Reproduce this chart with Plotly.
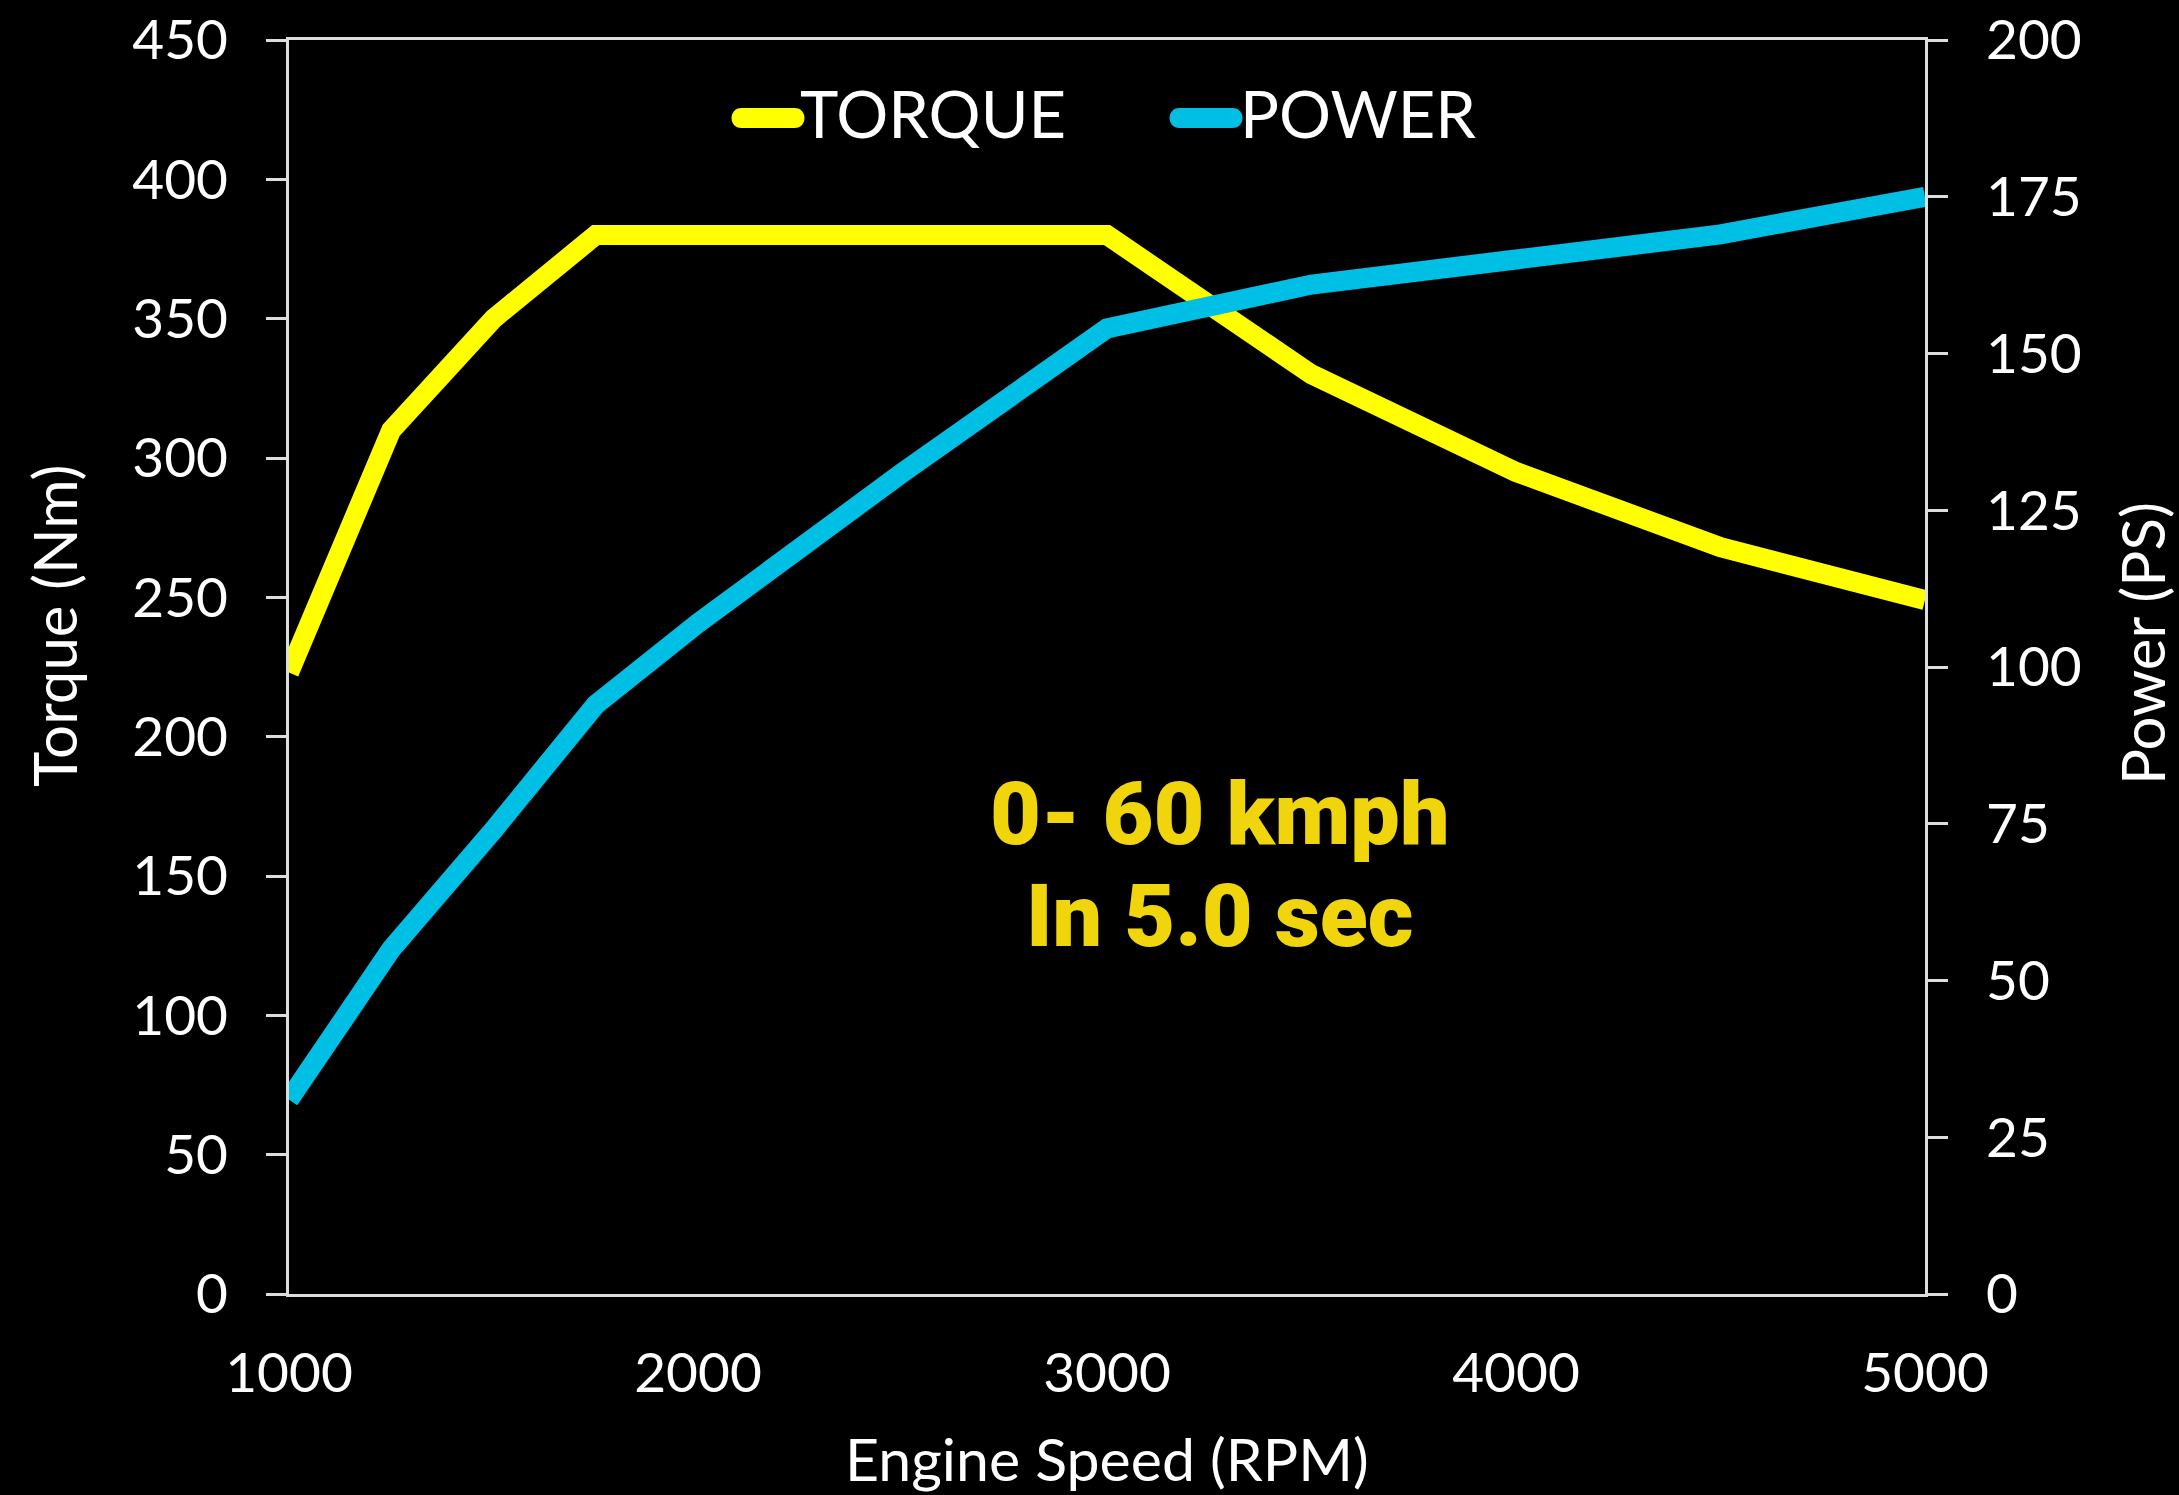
import plotly.graph_objects as go

# engine speed (RPM)
rpm = [1000, 1250, 1500, 1750, 2000, 2500, 3000, 3500, 4000, 4500, 5000]
# torque (Nm) and power (PS)
torque = [223, 310, 350, 380, 380, 380, 380, 330, 295, 268, 249]
power = [31, 55, 74, 94, 107, 131, 154, 161, 165, 169, 175]

series_names = ["TORQUE", "POWER"]

YELLOW = "#FFFF00"
BLUE = "#00BFE5"
AXIS = "#DDDDDD"
FONT = "Lato"

# plot area in pixels (figure is 2179 x 1495)
PL, PR, PT, PB = 289, 1925, 40, 1294
PW, PH = PR - PL, PB - PT


def px(x):
    return (x - PL) / PW


def py(y):
    return (PB - y) / PH


fig = go.Figure()

fig.add_trace(go.Scatter(
    x=rpm, y=torque, mode="lines", name=series_names[0],
    line=dict(color=YELLOW, width=20),
))
fig.add_trace(go.Scatter(
    x=rpm, y=power, mode="lines", name=series_names[1], yaxis="y2",
    line=dict(color=BLUE, width=20),
))

fig.update_layout(
    width=2179, height=1495,
    margin=dict(l=PL, r=2179 - PR, t=PT, b=1495 - PB),
    paper_bgcolor="black",
    plot_bgcolor="black",
    font=dict(family=FONT, color="white", size=55),
    showlegend=False,
    xaxis=dict(
        range=[1000, 5000], dtick=1000, tick0=1000,
        showgrid=False, zeroline=False, automargin=False,
        showline=True, linecolor=AXIS, linewidth=3, mirror=True,
        ticks="", ticklabelstandoff=29,
        tickfont=dict(size=55, color="white"),
    ),
    yaxis=dict(
        range=[0, 450], dtick=50,
        showgrid=False, zeroline=False, automargin=False,
        showline=True, linecolor=AXIS, linewidth=3,
        ticks="outside", ticklen=20, tickwidth=3, tickcolor=AXIS,
        ticklabelstandoff=27,
        tickfont=dict(size=55, color="white"),
    ),
    yaxis2=dict(
        range=[0, 200], dtick=25, overlaying="y", side="right",
        showgrid=False, zeroline=False, automargin=False,
        showline=True, linecolor=AXIS, linewidth=3,
        ticks="outside", ticklen=20, tickwidth=3, tickcolor=AXIS,
        ticklabelstandoff=27,
        tickfont=dict(size=55, color="white"),
    ),
)

# legend: thick rounded swatches + labels
stadium = "M -26.5,-10 L 26.5,-10 C 39.8,-10 39.8,10 26.5,10 L -26.5,10 C -39.8,10 -39.8,-10 -26.5,-10 Z"
for name, color, cx, tx in [(series_names[0], YELLOW, 768, 798),
                            (series_names[1], BLUE, 1206, 1238)]:
    fig.add_shape(
        type="path", path=stadium, xref="paper", yref="paper",
        xsizemode="pixel", ysizemode="pixel",
        xanchor=px(cx), yanchor=py(118),
        fillcolor=color, line=dict(width=0),
    )
    fig.add_annotation(
        text=name, xref="paper", yref="paper",
        x=px(tx), y=py(113), xanchor="left", yanchor="middle",
        showarrow=False, font=dict(size=65, color="white"),
    )

# axis titles
fig.add_annotation(
    text="Torque (Nm)", xref="paper", yref="paper",
    x=px(54), y=py(625), xanchor="center", yanchor="middle",
    textangle=-90, showarrow=False, font=dict(size=60, color="white"),
)
fig.add_annotation(
    text="Power (PS)", xref="paper", yref="paper",
    x=px(2142), y=py(644), xanchor="center", yanchor="middle",
    textangle=-90, showarrow=False, font=dict(size=60, color="white"),
)
fig.add_annotation(
    text="Engine Speed (RPM)", xref="paper", yref="paper",
    x=px(1107), y=py(1458), xanchor="center", yanchor="middle",
    showarrow=False, font=dict(size=59, color="white"),
)

# acceleration callout
for line, yc in [("0- 60 kmph", 813), ("In 5.0 sec", 915)]:
    fig.add_annotation(
        text=line, xref="paper", yref="paper",
        x=px(1220), y=py(yc), xanchor="center", yanchor="middle",
        showarrow=False,
        font=dict(family="Roboto", size=88, color="#F0D50C", weight=900),
    )

fig.write_html(
    "out.html",
    config={"displayModeBar": False},
    post_script="document.body.style.margin='0';",
)
